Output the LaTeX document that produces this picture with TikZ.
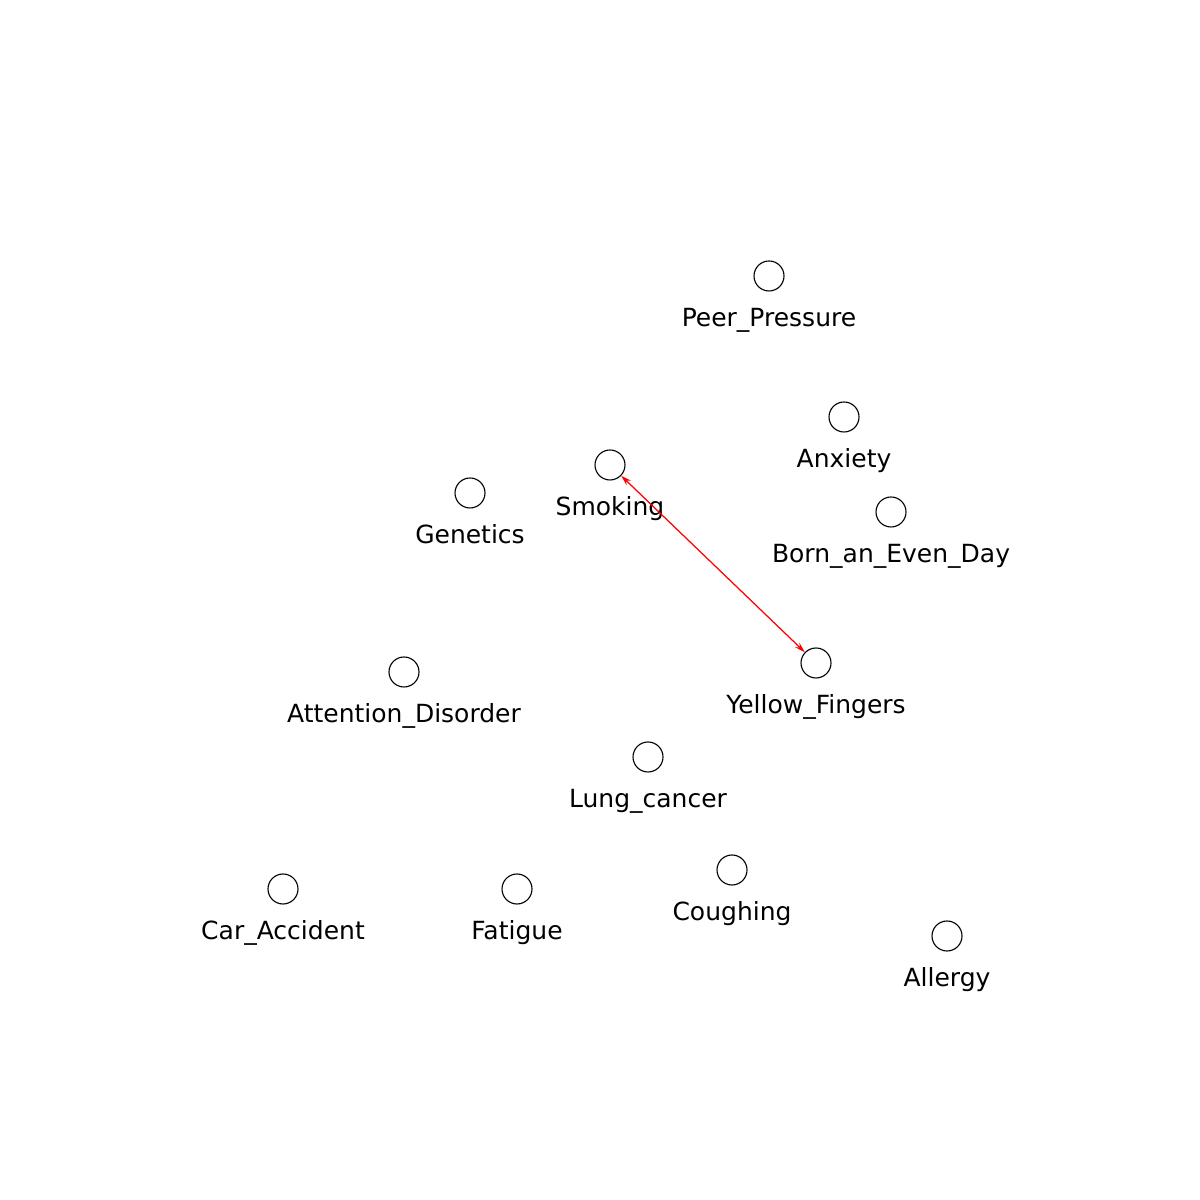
\documentclass[tikz,border=0pt]{standalone}
\usepackage{fontspec}
\setmainfont{DejaVu Sans}
\usetikzlibrary{arrows.meta}
\begin{document}
\begin{tikzpicture}[x=0.72pt,y=0.72pt,
  vnode/.style={circle,draw=black,line width=0.8pt,minimum size=30*0.72pt,inner sep=0pt},
  vlabel/.style={anchor=base,inner sep=0pt,font=\fontsize{18}{21}\selectfont},
  biedge/.style={red,line width=0.9pt,{Stealth[length=7.5pt,width=4.5pt]}-{Stealth[length=7.5pt,width=4.5pt]}}]
\useasboundingbox (0,0) rectangle (1200,1200);
\foreach \n/\x/\y/\t in {
  pp/769/276/Peer\_Pressure,
  an/844/417/Anxiety,
  sm/610/465/Smoking,
  ge/470/493/Genetics,
  be/891/512/Born\_an\_Even\_Day,
  yf/816/663/Yellow\_Fingers,
  ad/404/672/Attention\_Disorder,
  lc/648/757/Lung\_cancer,
  co/732/870/Coughing,
  ca/283/889/Car\_Accident,
  fa/517/889/Fatigue,
  al/947/936/Allergy}{
  \node[vnode] (\n) at (\x,1200-\y) {};
  \node[vlabel] (\n-l) at (\x,1200-\y-50.5) {\t};
}
\draw[biedge] (sm) -- (yf);
\end{tikzpicture}
\end{document}
